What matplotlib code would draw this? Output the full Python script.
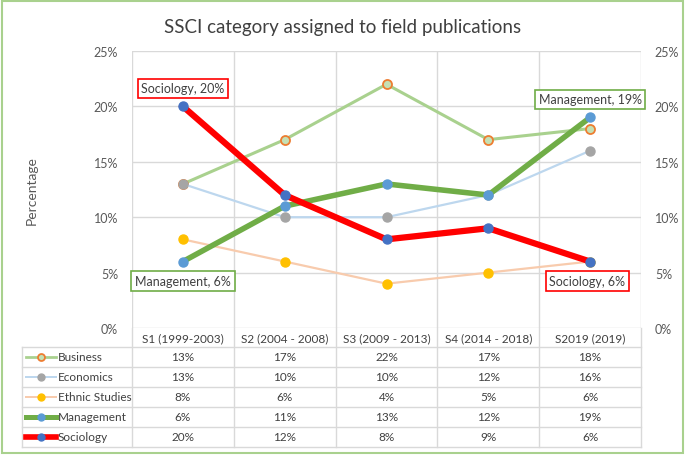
import matplotlib
matplotlib.use("Agg")
import matplotlib.pyplot as plt
import matplotlib.transforms as mtransforms
from matplotlib.lines import Line2D
from matplotlib.patches import Rectangle

plt.rcParams['font.family'] = ['Lato', 'DejaVu Sans']

periods = ["S1 (1999-2003)", "S2 (2004 - 2008)", "S3 (2009 - 2013)",
           "S4 (2014 - 2018)", "S2019 (2019)"]
series = ["Business", "Economics", "Ethnic Studies", "Management", "Sociology"]
business = [13, 17, 22, 17, 18]
economics = [13, 10, 10, 12, 16]
ethnic = [8, 6, 4, 5, 6]
management = [6, 11, 13, 12, 19]
sociology = [20, 12, 8, 9, 6]
values = [business, economics, ethnic, management, sociology]
yticks = [0, 5, 10, 15, 20, 25]

styles = {
    "Business": dict(color="#A9D18E", lw=2.2, mfc="#C5E0B4", mec="#ED7D31", ms=6.5, mew=1.3),
    "Economics": dict(color="#BDD7EE", lw=1.6, mfc="#A5A5A5", mec="#A5A5A5", ms=6.5, mew=1),
    "Ethnic Studies": dict(color="#F8CBAD", lw=1.6, mfc="#FFC000", mec="#FFC000", ms=6.5, mew=1),
    "Management": dict(color="#70AD47", lw=4, mfc="#5B9BD5", mec="#5B9BD5", ms=6.5, mew=1),
    "Sociology": dict(color="#FF0000", lw=4.5, mfc="#4472C4", mec="#4472C4", ms=6.5, mew=1),
}

fig = plt.figure(figsize=(6.85, 4.56), dpi=100)
fig.patches.append(Rectangle((0.003, 0.005), 0.994, 0.99, transform=fig.transFigure,
                             fill=False, ec="#A9D18E", lw=1.5))
ax = fig.add_axes([132/685, 1-329/456, (641-132)/685, (329-52)/456])
x = list(range(len(periods)))
for name, vals in zip(series, values):
    st = styles[name]
    ax.plot(x, vals, color=st["color"], lw=st["lw"], marker="o", ms=st["ms"],
            mfc=st["mfc"], mec=st["mec"], mew=st["mew"], zorder=3)

ax.set_xlim(-0.5, 4.5)
ax.set_ylim(0, 25)
ax.set_yticks(yticks)
ax.set_yticklabels([f"{v}%" for v in yticks])
ax.set_xticks([])
ax.tick_params(axis="y", length=0, labelsize=9, colors="#595959", pad=10,
               labelright=True, right=False)
for s in ax.spines.values():
    s.set_visible(False)
for v in yticks:
    ax.axhline(v, color="#D9D9D9", lw=1, zorder=1)
for b in [-0.5, 0.5, 1.5, 2.5, 3.5, 4.5]:
    ax.axvline(b, color="#D9D9D9", lw=1, zorder=1)
ax.set_ylabel("Percentage", fontsize=10, color="#595959", labelpad=40)
fig.text(0.5, 1-28/456, "SSCI category assigned to field publications",
         ha="center", va="center", fontsize=13.5, color="#404040")

# data labels
def label(xi, yi, text, ec, dx, dy, ha):
    ax.annotate(text, (xi, yi), xytext=(dx, dy), textcoords="offset points",
                ha=ha, va="center", fontsize=9, color="#404040",
                bbox=dict(boxstyle="square,pad=0.3", fc="white", ec=ec, lw=1.2), zorder=5)

label(0, sociology[0], f"Sociology, {sociology[0]}%", "#FF0000", 0, 13, "center")
label(4, management[4], f"Management, {management[4]}%", "#70AD47", 0, 13, "center")
label(0, management[0], f"Management, {management[0]}%", "#70AD47", 0, -14, "center")
label(4, sociology[4], f"Sociology, {sociology[4]}%", "#FF0000", -2, -14, "center")

# data table below the axes
trans = mtransforms.blended_transform_factory(ax.transData, ax.transAxes)
row_h = 20 / 277
hdr_bot = -19 / 277
grid_kw = dict(color="#D9D9D9", lw=1, clip_on=False, zorder=1)
for b in [-0.5, 0.5, 1.5, 2.5, 3.5, 4.5]:
    ax.add_line(Line2D([b, b], [0, hdr_bot - 5 * row_h], transform=trans, **grid_kw))
left_fig = 22 / 685
inv = ax.transData.inverted()
left_x = inv.transform(fig.transFigure.transform((left_fig, 0)))[0]
for i in range(6):
    yy = hdr_bot - i * row_h
    ax.add_line(Line2D([left_x, 4.5], [yy, yy], transform=trans, **grid_kw))
ax.add_line(Line2D([left_x, left_x], [hdr_bot, hdr_bot - 5 * row_h], transform=trans, **grid_kw))

for j, p in enumerate(periods):
    ax.text(j, hdr_bot / 2, p, transform=trans, ha="center", va="center",
            fontsize=8.5, color="#404040")

unit = inv.transform((1, 0))[0] - inv.transform((0, 0))[0]
for i, (name, vals) in enumerate(zip(series, values)):
    yc = hdr_bot - (i + 0.5) * row_h
    st = styles[name]
    x0 = left_x + 4 * unit
    x1 = left_x + 34 * unit
    ax.add_line(Line2D([x0, x1], [yc, yc], transform=trans, color=st["color"],
                       lw=st["lw"] * 0.9, clip_on=False))
    ax.add_line(Line2D([(x0 + x1) / 2], [yc], transform=trans, marker="o",
                       ms=5, mfc=st["mfc"], mec=st["mec"], mew=st["mew"],
                       clip_on=False))
    ax.text(x1 + 2 * unit, yc, name, transform=trans, ha="left", va="center",
            fontsize=8.5, color="#404040")
    for j, v in enumerate(vals):
        ax.text(j, yc, f"{v}%", transform=trans, ha="center", va="center",
                fontsize=8.5, color="#404040")

fig.savefig("out.png", dpi=100)
